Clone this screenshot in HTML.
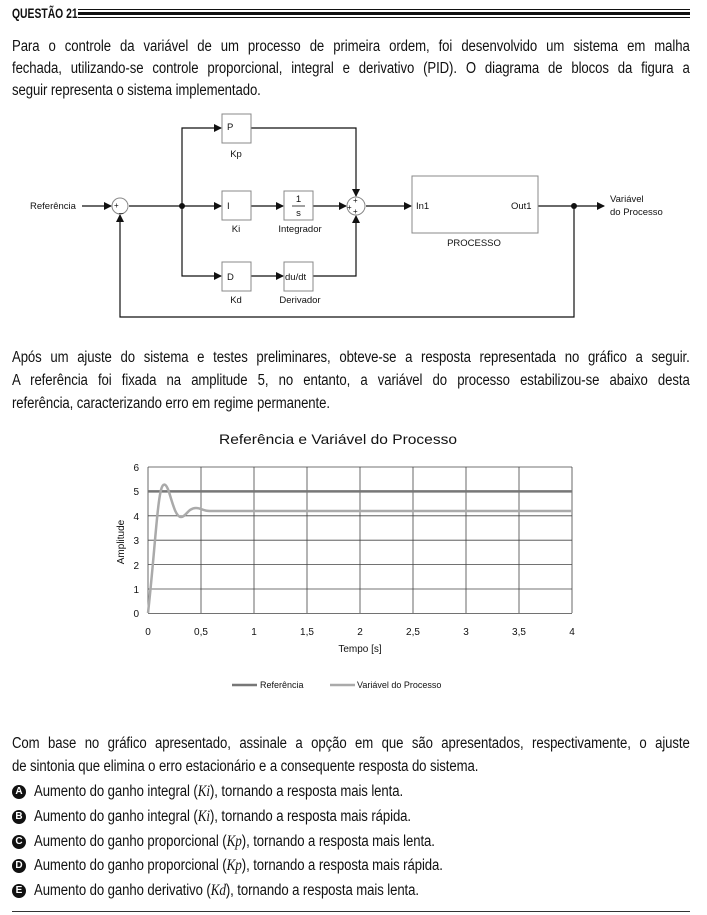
<!DOCTYPE html>
<html><head><meta charset="utf-8"><style>
body{margin:0;background:#fff;width:707px;height:915px;position:relative;overflow:hidden;font-family:"Liberation Sans",sans-serif;color:#111}
.l{position:absolute;left:12px;width:788px;font-size:15.3px;letter-spacing:-0.1px;text-align:justify;text-align-last:justify;white-space:nowrap;line-height:17px;transform:scaleX(0.86);transform-origin:0 0}
.n{text-align-last:left}
.o{position:absolute;left:34px;font-size:15.3px;letter-spacing:-0.1px;white-space:nowrap;line-height:17px;transform:scaleX(0.86);transform-origin:0 0}
.c{position:absolute;left:12px;width:14px;height:14px;border-radius:50%;background:#111;color:#fff;font-size:10px;font-weight:bold;text-align:center;line-height:14px}
i{font-family:"Liberation Serif",serif}
</style></head><body>
<div style="position:absolute;left:12px;top:5px;font-weight:bold;font-size:14px;transform:scaleX(0.74);transform-origin:0 0;white-space:nowrap">QUESTÃO 21</div>
<div style="position:absolute;left:78px;top:9px;width:612px;height:1px;background:#111"></div>
<div style="position:absolute;left:78px;top:12px;width:612px;height:3px;background:#111"></div>
<div style="position:absolute;left:78px;top:17px;width:612px;height:1px;background:#111"></div>

<div class="l" style="top:38px">Para o controle da variável de um processo de primeira ordem, foi desenvolvido um sistema em malha</div>
<div class="l" style="top:60px">fechada, utilizando-se controle proporcional, integral e derivativo (PID). O diagrama de blocos da figura a</div>
<div class="l n" style="top:82px">seguir representa o sistema implementado.</div>

<svg style="position:absolute;left:0;top:0" width="707" height="915" font-family="Liberation Sans,sans-serif" font-size="9.5" fill="#111">
<defs><marker id="a" markerWidth="8" markerHeight="8" refX="7" refY="4" orient="auto" markerUnits="userSpaceOnUse"><path d="M0,0L8,4L0,8z" fill="#111"/></marker></defs>
<g stroke="#111" stroke-width="1.2" fill="none">
<line x1="82" y1="206" x2="111" y2="206" marker-end="url(#a)"/>
<line x1="129" y1="206" x2="221" y2="206" marker-end="url(#a)"/>
<polyline points="182,206 182,128 221,128" marker-end="url(#a)"/>
<polyline points="182,206 182,276 221,276" marker-end="url(#a)"/>
<line x1="251" y1="206" x2="283" y2="206" marker-end="url(#a)"/>
<line x1="251" y1="276" x2="283" y2="276" marker-end="url(#a)"/>
<line x1="313" y1="206" x2="346" y2="206" marker-end="url(#a)"/>
<polyline points="251,128 356,128 356,196" marker-end="url(#a)"/>
<polyline points="313,276 356,276 356,216" marker-end="url(#a)"/>
<line x1="366" y1="206" x2="411" y2="206" marker-end="url(#a)"/>
<line x1="538" y1="206" x2="604" y2="206" marker-end="url(#a)"/>
<polyline points="574,206 574,317 120,317 120,215" marker-end="url(#a)"/>
</g>
<g stroke="#888" stroke-width="1" fill="#fff">
<rect x="222" y="114" width="29" height="29"/><rect x="222" y="191" width="29" height="29"/>
<rect x="284" y="191" width="29" height="29"/><rect x="222" y="262" width="29" height="29"/>
<rect x="284" y="262" width="29" height="29"/><rect x="412" y="176" width="126" height="57"/>
<circle cx="120" cy="206" r="8"/><circle cx="356" cy="206" r="9"/>
</g>
<line x1="292" y1="206" x2="305" y2="206" stroke="#111" stroke-width="0.8"/>
<circle cx="182" cy="206" r="3" fill="#111"/><circle cx="574" cy="206" r="3" fill="#111"/>
<text x="30" y="209">Referência</text>
<text x="114" y="208" font-size="8">+</text><text x="119" y="212" font-size="8">_</text>
<text x="347" y="210" font-size="8">+</text><text x="353" y="203" font-size="8">+</text><text x="353" y="214" font-size="8">+</text>
<text x="227" y="130">P</text><text x="236" y="157" text-anchor="middle">Kp</text>
<text x="227" y="209">I</text><text x="236" y="232" text-anchor="middle">Ki</text>
<text x="298.5" y="202" text-anchor="middle">1</text><text x="298.5" y="216" text-anchor="middle">s</text>
<text x="300" y="232" text-anchor="middle">Integrador</text>
<text x="227" y="280">D</text><text x="236" y="303" text-anchor="middle">Kd</text>
<text x="285" y="280">du/dt</text><text x="300" y="303" text-anchor="middle">Derivador</text>
<text x="416" y="209">In1</text><text x="511" y="209">Out1</text>
<text x="474" y="246" text-anchor="middle">PROCESSO</text>
<text x="610" y="202">Variável</text><text x="610" y="215">do Processo</text>

<text x="338" y="444" font-size="14" text-anchor="middle" textLength="238" lengthAdjust="spacingAndGlyphs">Referência e Variável do Processo</text>
<g stroke="#444" stroke-width="0.8">
<line x1="148" y1="467" x2="572" y2="467"/><line x1="148" y1="491.4" x2="572" y2="491.4"/>
<line x1="148" y1="515.8" x2="572" y2="515.8"/><line x1="148" y1="540.2" x2="572" y2="540.2"/>
<line x1="148" y1="564.6" x2="572" y2="564.6"/><line x1="148" y1="589" x2="572" y2="589"/>
<line x1="148" y1="613.4" x2="572" y2="613.4"/>
<line x1="148" y1="467" x2="148" y2="613"/><line x1="201" y1="467" x2="201" y2="613"/>
<line x1="254" y1="467" x2="254" y2="613"/><line x1="307" y1="467" x2="307" y2="613"/>
<line x1="360" y1="467" x2="360" y2="613"/><line x1="413" y1="467" x2="413" y2="613"/>
<line x1="466" y1="467" x2="466" y2="613"/><line x1="519" y1="467" x2="519" y2="613"/>
<line x1="572" y1="467" x2="572" y2="613"/>
</g>
<line x1="148" y1="491.4" x2="572" y2="491.4" stroke="#777" stroke-width="2.5"/>
<path d="M148,613 C154,560 157,505 161,490 C163,482 166,483 169,492 C173,505 176,517 181,517 C186,517 188,508 196,508 C201,508 203,511 210,511 L572,511" stroke="#aaa" stroke-width="2.5" fill="none"/>
<g font-size="10" text-anchor="end">
<text x="139" y="471">6</text><text x="139" y="495">5</text><text x="139" y="520">4</text><text x="139" y="544">3</text><text x="139" y="569">2</text><text x="139" y="593">1</text><text x="139" y="617">0</text>
</g>
<g font-size="10" text-anchor="middle">
<text x="148" y="635">0</text><text x="201" y="635">0,5</text><text x="254" y="635">1</text><text x="307" y="635">1,5</text><text x="360" y="635">2</text><text x="413" y="635">2,5</text><text x="466" y="635">3</text><text x="519" y="635">3,5</text><text x="572" y="635">4</text>
<text x="360" y="652">Tempo [s]</text>
</g>
<text x="0" y="0" font-size="10" text-anchor="middle" transform="translate(124,542) rotate(-90)">Amplitude</text>
<line x1="232" y1="685" x2="257" y2="685" stroke="#777" stroke-width="2.5"/>
<text x="260" y="688" font-size="9">Referência</text>
<line x1="330" y1="685" x2="355" y2="685" stroke="#aaa" stroke-width="2.5"/>
<text x="357" y="688" font-size="9">Variável do Processo</text>
</svg>

<div class="l" style="top:349px">Após um ajuste do sistema e testes preliminares, obteve-se a resposta representada no gráfico a seguir.</div>
<div class="l" style="top:372px">A referência foi fixada na amplitude 5, no entanto, a variável do processo estabilizou-se abaixo desta</div>
<div class="l n" style="top:395px">referência, caracterizando erro em regime permanente.</div>

<div class="l" style="top:735px">Com base no gráfico apresentado, assinale a opção em que são apresentados, respectivamente, o ajuste</div>
<div class="l n" style="top:758px">de sintonia que elimina o erro estacionário e a consequente resposta do sistema.</div>

<div class="c" style="top:785px">A</div><div class="o" style="top:783px">Aumento do ganho integral (<i>Ki</i>), tornando a resposta mais lenta.</div>
<div class="c" style="top:810px">B</div><div class="o" style="top:808px">Aumento do ganho integral (<i>Ki</i>), tornando a resposta mais rápida.</div>
<div class="c" style="top:835px">C</div><div class="o" style="top:833px">Aumento do ganho proporcional (<i>Kp</i>), tornando a resposta mais lenta.</div>
<div class="c" style="top:859px">D</div><div class="o" style="top:857px">Aumento do ganho proporcional (<i>Kp</i>), tornando a resposta mais rápida.</div>
<div class="c" style="top:884px">E</div><div class="o" style="top:882px">Aumento do ganho derivativo (<i>Kd</i>), tornando a resposta mais lenta.</div>
<div style="position:absolute;left:12px;top:911px;width:678px;height:1px;background:#333"></div>
</body></html>
